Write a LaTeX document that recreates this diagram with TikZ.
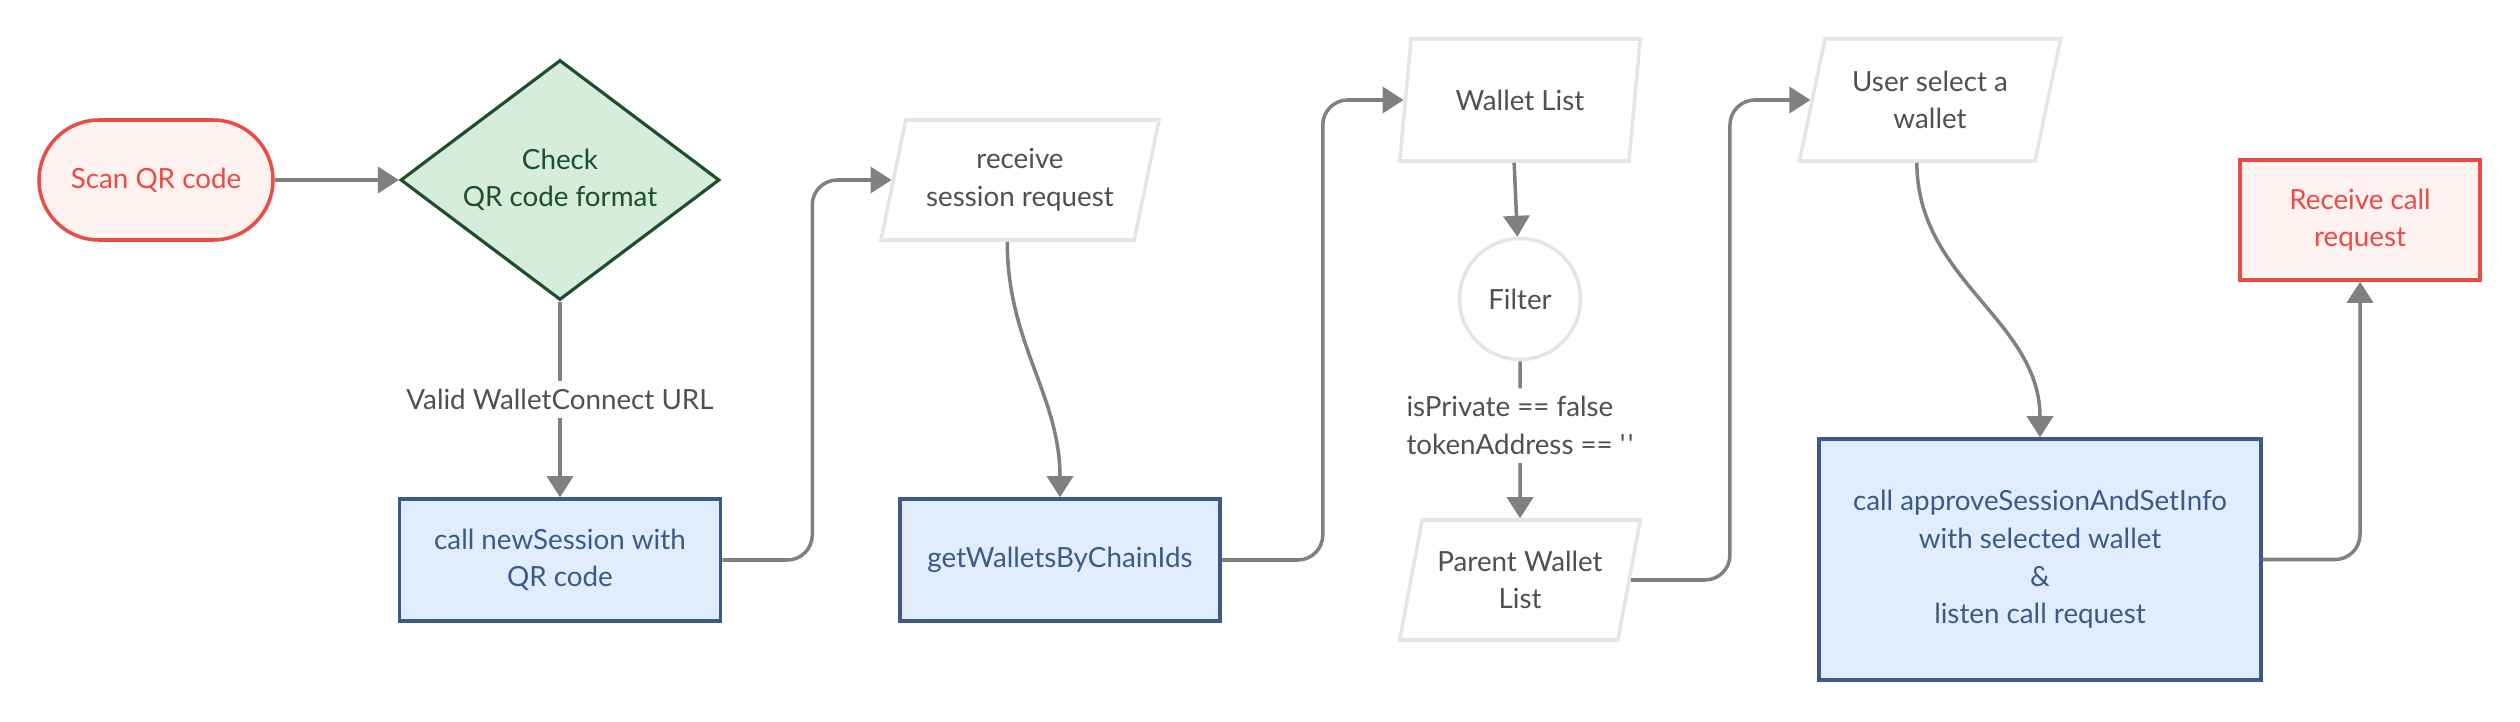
\documentclass[tikz,border=0pt]{standalone}
\usepackage{fontspec}
\setmainfont{Lato}
\usetikzlibrary{shapes.geometric,arrows.meta}
\definecolor{flowgray}{RGB}{128,128,128}
\definecolor{txtgray}{RGB}{80,80,80}
\definecolor{termred}{RGB}{234,76,68}
\definecolor{termfill}{RGB}{254,242,241}
\definecolor{decgreen}{RGB}{28,80,40}
\definecolor{decfill}{RGB}{213,237,218}
\definecolor{procblue}{RGB}{60,90,135}
\definecolor{procfill}{RGB}{225,237,252}
\definecolor{ioline}{RGB}{232,228,230}
\tikzset{
  every node/.style={font=\fontsize{7.9}{10.7}\selectfont, align=center, inner sep=0pt},
  termbox/.style={draw=termred, fill=termfill, text=termred, line width=1pt},
  decbox/.style={diamond, aspect=1.33, draw=decgreen, fill=decfill, text=decgreen, line width=0.9pt, minimum width=3.19cm, minimum height=2.40cm},
  procbox/.style={draw=procblue, fill=procfill, text=procblue, line width=1pt},
  iobox/.style={trapezium, trapezium left angle=72, trapezium right angle=108, trapezium stretches=true, draw=ioline, fill=white, text=txtgray, line width=1pt},
  flow/.style={draw=flowgray, line width=1pt, rounded corners=0.25cm, -{Triangle[length=0.21cm,width=0.26cm]}},
  edgelbl/.style={fill=white, text=txtgray, inner sep=0.08cm}
}
\begin{document}
\begin{tikzpicture}
\useasboundingbox (0,0) rectangle (25.2,7.21);
\node[termbox, rounded corners=0.6cm, minimum width=2.34cm, minimum height=1.20cm] (scan_qr) at (1.56,5.41) {Scan QR code};
\node[decbox] (chk_fmt) at (5.60,5.41) {Check\\QR code format};
\node[procbox, minimum width=3.21cm, minimum height=1.22cm] (new_sess) at (5.60,1.61) {call newSession with\\QR code};
\node[iobox, minimum width=2.80cm, minimum height=1.20cm] (recv_req) at (10.20,5.41) {receive\\session request};
\node[procbox, minimum width=3.20cm, minimum height=1.22cm] (get_wl) at (10.60,1.61) {getWalletsByChainIds};
\node[iobox, minimum width=2.41cm, minimum height=1.22cm] (wl_list) at (15.20,6.21) {Wallet List};
\node[circle, draw=ioline, fill=white, text=txtgray, line width=1pt, minimum size=1.21cm] (flt) at (15.20,4.22) {Filter};
\node[iobox, minimum width=2.41cm, minimum height=1.20cm] (par_wl) at (15.20,1.41) {Parent Wallet\\List};
\node[iobox, minimum width=2.62cm, minimum height=1.22cm] (usr_sel) at (19.30,6.21) {User select a\\wallet};
\node[procbox, minimum width=4.42cm, minimum height=2.41cm] (appr) at (20.40,1.615) {call approveSessionAndSetInfo\\with selected wallet\\\&\\listen call request};
\node[termbox, minimum width=2.40cm, minimum height=1.20cm] (recv_call) at (23.60,5.01) {Receive call\\request};
\draw[flow] (scan_qr) -- (chk_fmt);
\draw[flow] (chk_fmt) -- node[edgelbl, midway] {Valid WalletConnect URL} (new_sess);
\draw[flow] (new_sess.east) -- ++(0.90,0) |- (recv_req.left side);
\draw[flow] (recv_req.bottom side) to[out=-90, in=90] (get_wl.north);
\draw[flow] (get_wl.east) -- ++(1.01,0) |- (wl_list.left side);
\draw[flow] (wl_list.bottom side) -- (flt);
\draw[flow] (flt) -- node[edgelbl, pos=0.41, align=left] {isPrivate == false\\tokenAddress == \textquotesingle\hspace{0.08em}\textquotesingle} (par_wl);
\draw[flow] (par_wl.right side) -- ++(0.99,0) |- (usr_sel.left side);
\draw[flow] (usr_sel.bottom side) to[out=-90, in=90] (appr.north);
\draw[flow] (appr.east) -| (recv_call.south);
\end{tikzpicture}
\end{document}
